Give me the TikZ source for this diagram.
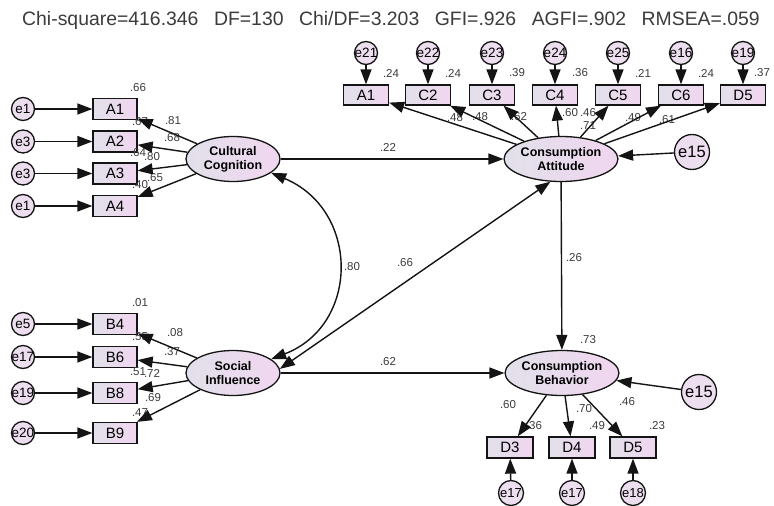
\documentclass[tikz,border=0pt]{standalone}
\usepackage{fontspec}
\setmainfont{Liberation Sans}
\usetikzlibrary{arrows.meta,shapes.geometric}
\definecolor{boxL}{RGB}{226,224,234}
\definecolor{boxR}{RGB}{240,214,240}
\definecolor{errC}{RGB}{236,222,238}
\definecolor{labC}{RGB}{60,60,60}
\definecolor{lineC}{RGB}{20,20,20}
\begin{document}
\begin{tikzpicture}[x=1pt,y=-1pt,
  every node/.style={inner sep=0pt},
  obs/.style={draw=lineC, line width=1.3pt, minimum width=44pt, minimum height=21pt,
    left color=boxL, right color=boxR, font=\fontsize{15}{15}\selectfont},
  lat/.style={ellipse, draw=lineC, line width=1.3pt, minimum width=94pt, minimum height=45pt,
    left color=boxL, right color=boxR, align=center,
    font=\fontsize{12.5}{14}\selectfont\bfseries},
  err/.style={circle, draw=lineC, line width=1.3pt, minimum size=23pt, fill=errC,
    font=\fontsize{13.5}{13.5}\selectfont},
  errb/.style={err, minimum size=35pt, font=\fontsize{16.5}{16.5}\selectfont},
  lbl/.style={font=\fontsize{11.5}{11.5}\selectfont, text=labC},
  arr/.style={-{Triangle[length=15pt,width=11pt]}, line width=1.4pt, draw=lineC},
  darr/.style={{Triangle[length=15pt,width=11pt]}-{Triangle[length=15pt,width=11pt]}, line width=1.4pt, draw=lineC}
]
\fill[white] (0,0) rectangle (774,506);
\useasboundingbox (0,0) rectangle (774,506);

\node[font=\fontsize{19.4}{19.4}\selectfont, text=labC] (title) at (391,20)
  {Chi-square=416.346\hspace{0.8em}DF=130\hspace{0.8em}Chi/DF=3.203\hspace{0.8em}GFI=.926\hspace{0.8em}AGFI=.902\hspace{0.8em}RMSEA=.059};

% latent variables
\node[lat] (cc) at (233,159) {Cultural\\Cognition};
\node[lat] (si) at (233,373) {Social\\Influence};
\node[lat] (att) at (561,159) {Consumption\\Attitude};
\node[lat] (beh) at (562,373) {Consumption\\Behavior};

% left indicators A
\node[obs] (A1) at (115,109) {A1};
\node[obs] (A2) at (115,141.5) {A2};
\node[obs] (A3) at (115,173.5) {A3};
\node[obs] (A4) at (115,206) {A4};
\node[err] (ea1) at (23,109) {\makebox[0pt]{e1}};
\node[err] (ea2) at (23,141.5) {\makebox[0pt]{e3}};
\node[err] (ea3) at (23,173.5) {\makebox[0pt]{e3}};
\node[err] (ea4) at (23,206) {\makebox[0pt]{e1}};

% left indicators B
\node[obs] (B4) at (115,324) {B4};
\node[obs] (B6) at (115,357) {B6};
\node[obs] (B8) at (115,393) {B8};
\node[obs] (B9) at (115,433) {B9};
\node[err] (eb1) at (23,324) {\makebox[0pt]{e5}};
\node[err] (eb2) at (23,357) {\makebox[0pt]{e17}};
\node[err] (eb3) at (23,393) {\makebox[0pt]{e19}};
\node[err] (eb4) at (23,433) {\makebox[0pt]{e20}};

% top indicators
\foreach \n/\t/\e/\x in {T1/A1/e21/366, T2/C2/e22/428, T3/C3/e23/492, T4/C4/e24/555,
                        T5/C5/e25/618, T6/C6/e16/681, T7/D5/e19/743} {
  \node[obs, minimum width=45pt, minimum height=20pt] (\n) at (\x,95) {\t};
  \node[err] (e\n) at (\x,53) {\makebox[0pt]{\e}};
}

% bottom indicators
\node[obs, minimum width=46pt] (D3) at (510,447.5) {D3};
\node[obs, minimum width=46pt] (D4) at (572,447.5) {D4};
\node[obs, minimum width=46pt] (D5) at (633,447.5) {D5};
\node[err, minimum size=25pt, font=\fontsize{13}{13}\selectfont] (ed3) at (511,493) {\makebox[0pt]{e17}};
\node[err, minimum size=25pt, font=\fontsize{13}{13}\selectfont] (ed4) at (572,493) {\makebox[0pt]{e17}};
\node[err, minimum size=25pt, font=\fontsize{13}{13}\selectfont] (ed5) at (633,493) {\makebox[0pt]{e18}};

% disturbances
\node[errb] (e15a) at (692,152) {e15};
\node[errb] (e15b) at (699,392) {e15};

% labels
\node[lbl] (la1) at (138,88) {.66};
\node[lbl] (la2) at (140,122) {.67};
\node[lbl] (la3) at (173,121) {.81};
\node[lbl] (la4) at (172,138) {.68};
\node[lbl] (la5) at (138,153) {.64};
\node[lbl] (la6) at (152,157) {.80};
\node[lbl] (la7) at (140,185) {.40};
\node[lbl] (la8) at (155,178) {.65};

\node[lbl] (lb1) at (140,303) {.01};
\node[lbl] (lb2) at (175,333) {.08};
\node[lbl] (lb3) at (140,337) {.55};
\node[lbl] (lb4) at (172,352) {.37};
\node[lbl] (lb5) at (138,372) {.51};
\node[lbl] (lb6) at (152,373) {.72};
\node[lbl] (lb7) at (153,398) {.69};
\node[lbl] (lb8) at (140,413) {.47};

\foreach \x/\v [count=\i] in {391/.24, 453/.24, 517/.39, 580/.36, 643/.21, 706/.24, 762/.37}
  \node[lbl] (lt\i) at (\x,73) {\v};

\node[lbl] (lc1) at (455,118) {.48};
\node[lbl] (lc2) at (480,117) {.48};
\node[lbl] (lc3) at (519,117) {.62};
\node[lbl] (lc4) at (570,113) {.60};
\node[lbl] (lc5) at (588,113) {.46};
\node[lbl] (lc6) at (588,126) {.71};
\node[lbl] (lc7) at (633,118) {.49};
\node[lbl] (lc8) at (667,120) {.61};

\node[lbl] (p1) at (388,147) {.22};
\node[lbl] (p2) at (388,362) {.62};
\node[lbl] (p3) at (352,267) {.80};
\node[lbl] (p4) at (405,263) {.66};
\node[lbl] (p5) at (574,258) {.26};

\node[lbl] (ld1) at (588,340) {.73};
\node[lbl] (ld2) at (508,405) {.60};
\node[lbl] (ld3) at (534,426) {.36};
\node[lbl] (ld4) at (584,409) {.70};
\node[lbl] (ld5) at (597,426) {.49};
\node[lbl] (ld6) at (627,402) {.46};
\node[lbl] (ld7) at (657,426) {.23};

% connectors
\foreach \a/\b in {ea1/A1, ea2/A2, ea3/A3, ea4/A4, eb1/B4, eb2/B6, eb3/B8, eb4/B9,
                   cc/A1, cc/A2, cc/A3, cc/A4, si/B4, si/B6, si/B8, si/B9,
                   eT1/T1, eT2/T2, eT3/T3, eT4/T4, eT5/T5, eT6/T6, eT7/T7,
                   att/T1, att/T2, att/T3, att/T4, att/T5, att/T6, att/T7,
                   cc/att, si/beh, att/beh, e15a/att, e15b/beh,
                   beh/D3, beh/D4, beh/D5, ed3/D3, ed4/D4, ed5/D5}
  \draw[arr] (\a) -- (\b);
\draw[darr] (si.5) -- (att.-115);
\draw[darr] (cc.-20) .. controls (360,210) and (360,325) .. (si.20);
\end{tikzpicture}
\end{document}
